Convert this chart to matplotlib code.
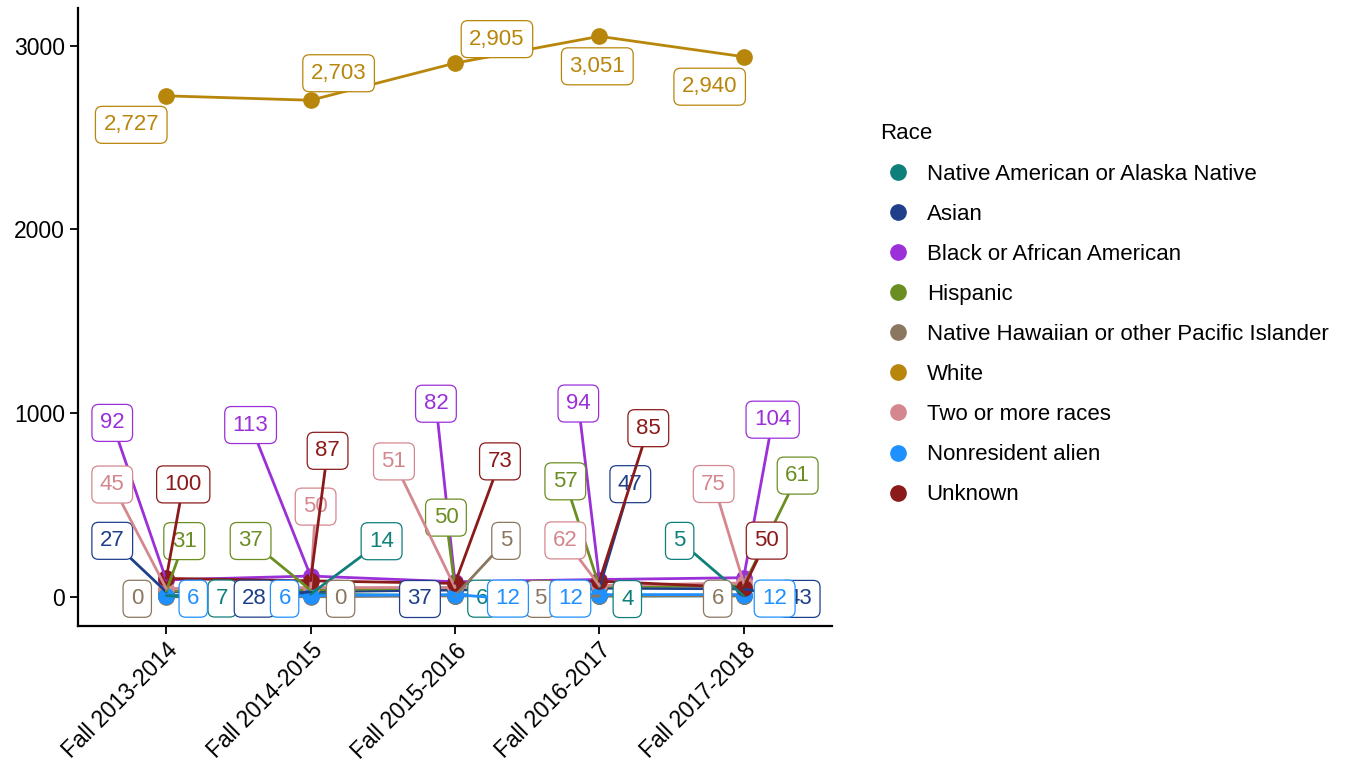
import math
import matplotlib.pyplot as plt
from matplotlib.lines import Line2D

plt.rcParams['font.family'] = ['Liberation Sans', 'DejaVu Sans']

years = ['Fall 2013-2014', 'Fall 2014-2015', 'Fall 2015-2016', 'Fall 2016-2017', 'Fall 2017-2018']
races = ['Native American or Alaska Native', 'Asian', 'Black or African American', 'Hispanic',
         'Native Hawaiian or other Pacific Islander', 'White', 'Two or more races',
         'Nonresident alien', 'Unknown']

native_american = [7, 14, 6, 4, 5]
asian = [27, 28, 37, 47, 43]
black = [92, 113, 82, 94, 104]
hispanic = [31, 37, 50, 57, 61]
pacific_islander = [0, 0, 5, 5, 6]
white = [2727, 2703, 2905, 3051, 2940]
two_or_more = [45, 50, 51, 62, 75]
nonresident = [6, 6, 12, 12, 12]
unknown = [100, 87, 73, 85, 50]

series = [native_american, asian, black, hispanic, pacific_islander, white, two_or_more, nonresident, unknown]
colors = ['#0f7f7a', '#1f3f8a', '#9b30d9', '#6b8e23', '#8b7760', '#b8860b', '#d4878f', '#1e90ff', '#8b1a1a']

# repel-style label offsets (pixels) for each series / year
offsets = [
    [(56, -3), (71, 53), (27, -3), (28, -3), (-64, 55)],
    [(-54, 51), (-56, -7), (-35, -9), (31, 104), (56, -10)],
    [(-54, 157), (-60, 151), (-19, 178), (-21, 176), (29, 158)],
    [(18, 50), (-60, 49), (-9, 70), (-34, 105), (54, 110)],
    [(-29, -2), (30, -2), (51, 55), (-59, -3), (-26, -3)],
    [(-35, -29), (28, 27), (42, 24), (-2, -30), (-34, -30)],
    [(-54, 104), (5, 81), (-61, 126), (-34, 45), (-30, 99)],
    [(27, -3), (-26, -3), (53, -4), (-29, -4), (31, -4)],
    [(17, 94), (17, 130), (45, 122), (49, 153), (23, 47)],
]

fig = plt.figure(figsize=(13.48, 7.66), dpi=100)
ax = fig.add_axes([0.058, 0.183, 0.559, 0.807])

x = list(range(len(years)))
for vals, col in zip(series, colors):
    ax.plot(x, vals, color=col, linewidth=2, marker='o', markersize=11, zorder=3)

for vals, col, offs in zip(series, colors, offsets):
    for xi, v, (dx, dy) in zip(x, vals, offs):
        props = None
        if math.hypot(dx, dy) > 50:
            props = dict(arrowstyle='-', color=col, lw=2, shrinkA=0, shrinkB=0)
        ax.annotate(f'{v:,}', xy=(xi, v), xytext=(dx, dy), textcoords='offset pixels',
                    ha='center', va='center', fontsize=16, color=col, zorder=5,
                    bbox=dict(boxstyle='round,pad=0.36,rounding_size=0.3', fc='white', ec=col, lw=0.9),
                    arrowprops=props)

ax.set_xlim(-0.61, 4.61)
ax.set_ylim(-158, 3207)
ax.set_yticks([0, 1000, 2000, 3000])
ax.set_xticks(x)
ax.set_xticklabels(years, rotation=45, ha='right', rotation_mode='anchor')
ax.tick_params(labelsize=16.5, colors='black', width=1.3, length=6)
for s in ['top', 'right']:
    ax.spines[s].set_visible(False)
for s in ['left', 'bottom']:
    ax.spines[s].set_linewidth(1.6)

handles = [Line2D([], [], color=c, marker='o', linestyle='', markersize=11) for c in colors]
leg = fig.legend(handles, races, title='Race', loc='upper left', bbox_to_anchor=(0.638, 0.865),
                 frameon=False, fontsize=16, title_fontsize=16, handletextpad=0.5,
                 handlelength=1.6, labelspacing=0.86, alignment='left')

fig.savefig('out.png', dpi=100)
